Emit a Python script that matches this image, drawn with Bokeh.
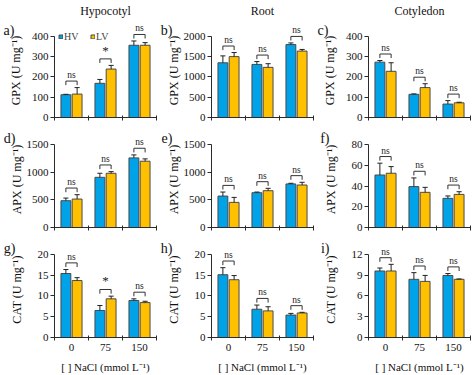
import numpy as np
from bokeh.plotting import figure
from bokeh.layouts import gridplot
from bokeh.models import (Range1d, FixedTicker, Legend, LegendItem, ColumnDataSource,
                          LinearAxis)
from bokeh.core.properties import value
from bokeh.embed import file_html
from bokeh.resources import INLINE

# ---------------- data ----------------
doses = ["0", "75", "150"]
tissues = ["Hypocotyl", "Root", "Cotyledon"]
enzymes = ["GPX", "APX", "CAT"]
letters = ["a)", "b)", "c)", "d)", "e)", "f)", "g)", "h)", "i)"]

gpx_hyp_hv = [112, 168, 355]; gpx_hyp_hv_err = [2, 19, 21]
gpx_hyp_lv = [115, 238, 355]; gpx_hyp_lv_err = [32, 18, 13]
gpx_root_hv = [1344, 1304, 1792]; gpx_root_hv_err = [170, 70, 40]
gpx_root_lv = [1496, 1232, 1632]; gpx_root_lv_err = [100, 90, 40]
gpx_cot_hv = [272, 114, 66]; gpx_cot_hv_err = [8, 2, 17]
gpx_cot_lv = [227, 147, 72]; gpx_cot_lv_err = [42, 19, 3]

apx_hyp_hv = [484, 907, 1258]; apx_hyp_hv_err = [48, 73, 54]
apx_hyp_lv = [514, 980, 1198]; apx_hyp_lv_err = [79, 30, 42]
apx_root_hv = [568, 629, 787]; apx_root_hv_err = [73, 12, 12]
apx_root_lv = [454, 665, 768]; apx_root_lv_err = [90, 43, 49]
apx_cot_hv = [50.6, 39.4, 28.1]; apx_cot_hv_err = [11.4, 8.4, 2.3]
apx_cot_lv = [52.3, 33.9, 31.9]; apx_cot_lv_err = [6.4, 4.8, 2.6]

cat_hyp_hv = [15.4, 6.5, 8.9]; cat_hyp_hv_err = [0.95, 1.2, 0.4]
cat_hyp_lv = [13.7, 9.3, 8.4]; cat_hyp_lv_err = [0.7, 0.65, 0.32]
cat_root_hv = [15.1, 6.8, 5.4]; cat_root_hv_err = [1.7, 1.0, 0.4]
cat_root_lv = [13.9, 6.4, 5.9]; cat_root_lv_err = [1.0, 1.0, 0.16]
cat_cot_hv = [9.6, 8.4, 8.95]; cat_cot_hv_err = [0.43, 0.96, 0.28]
cat_cot_lv = [9.6, 8.1, 8.4]; cat_cot_lv_err = [0.96, 0.86, 0.05]

sig_gpx_hyp = ["ns", "*", "ns"]
sig_cat_hyp = ["ns", "*", "ns"]
sig_ns = ["ns", "ns", "ns"]

y_max = [400, 2000, 400, 1500, 1500, 80, 20, 20, 12]
y_step = [100, 500, 100, 500, 500, 20, 5, 5, 3]

panels = [
    (gpx_hyp_hv, gpx_hyp_hv_err, gpx_hyp_lv, gpx_hyp_lv_err, sig_gpx_hyp),
    (gpx_root_hv, gpx_root_hv_err, gpx_root_lv, gpx_root_lv_err, sig_ns),
    (gpx_cot_hv, gpx_cot_hv_err, gpx_cot_lv, gpx_cot_lv_err, sig_ns),
    (apx_hyp_hv, apx_hyp_hv_err, apx_hyp_lv, apx_hyp_lv_err, sig_ns),
    (apx_root_hv, apx_root_hv_err, apx_root_lv, apx_root_lv_err, sig_ns),
    (apx_cot_hv, apx_cot_hv_err, apx_cot_lv, apx_cot_lv_err, sig_ns),
    (cat_hyp_hv, cat_hyp_hv_err, cat_hyp_lv, cat_hyp_lv_err, sig_cat_hyp),
    (cat_root_hv, cat_root_hv_err, cat_root_lv, cat_root_lv_err, sig_ns),
    (cat_cot_hv, cat_cot_hv_err, cat_cot_lv, cat_cot_lv_err, sig_ns),
]

# ---------------- style / layout ----------------
BLUE = "#00A2E8"
ORANGE = "#FFC000"
EDGE = "#4a4a4a"
AXIS = "#2b2b2b"
TXT = "#111111"
FONT = "Liberation Serif"

col_w = [157, 157, 160]
col_left = [48, 48, 48]
col_right = [1, 1, 4]
row_h = [121, 110, 144]
row_top = [20, 10, 10]
row_bottom = [4, 4, 37]
frame_h = [97, 96, 97]
span_px = [84, 83, 84]      # pixels from 0 to y_max
OFF = 0.165
BW = 0.29
CAP = 0.075

pos = np.arange(1, len(doses) + 1)

grid = []
for r in range(3):
    row_figs = []
    for c in range(3):
        k = r * 3 + c
        hv, hv_e, lv, lv_e, sig = panels[k]
        ym, st = y_max[k], y_step[k]
        kk = frame_h[r] / span_px[r]
        p = figure(width=col_w[c], height=row_h[r],
                   x_range=Range1d(0.5, 3.5), y_range=Range1d(0, ym * kk),
                   output_backend="svg", toolbar_location=None,
                   min_border_left=col_left[c], min_border_right=col_right[c],
                   min_border_top=row_top[r], min_border_bottom=row_bottom[r])
        p.outline_line_color = None
        p.xgrid.visible = False
        p.ygrid.visible = False

        xh = pos - OFF
        xl = pos + OFF
        hv = np.array(hv, float); lv = np.array(lv, float)
        hv_e = np.array(hv_e, float); lv_e = np.array(lv_e, float)

        r_hv = p.vbar(x=xh, top=hv, width=BW, fill_color=BLUE, line_color=EDGE, line_width=1)
        r_lv = p.vbar(x=xl, top=lv, width=BW, fill_color=ORANGE, line_color=EDGE, line_width=1)

        xs_all = np.concatenate([xh, xl])
        top_all = np.concatenate([hv, lv])
        err_all = np.concatenate([hv_e, lv_e])
        p.segment(x0=xs_all, y0=top_all, x1=xs_all, y1=top_all + err_all,
                  line_color="#222222", line_width=1)
        p.segment(x0=xs_all - CAP, y0=top_all + err_all, x1=xs_all + CAP, y1=top_all + err_all,
                  line_color="#222222", line_width=1)

        # significance brackets
        hi = np.maximum(hv + hv_e, lv + lv_e)
        yb = hi + 0.08 * ym
        leg = 0.05 * ym
        bx = [[a, a, b, b] for a, b in zip(xh, xl)]
        by = [[y - leg, y, y, y - leg] for y in yb]
        p.multi_line(xs=bx, ys=by, line_color="#333333", line_width=1)
        src = ColumnDataSource(dict(x=pos, y=yb + 0.012 * ym, t=sig,
                                    fs=["13px" if s == "*" else "9.5px" for s in sig]))
        p.text(x="x", y="y", text="t", source=src, text_align="center", text_baseline="bottom",
               text_font=value(FONT), text_font_size="fs", text_color="#222222")

        # main y axis
        nd = len(str(ym))
        yax = p.yaxis[0]
        yax.ticker = FixedTicker(ticks=list(np.arange(0, ym + st / 2, st)))
        yax.bounds = (0, ym)
        yax.axis_label = f"{enzymes[r]} (U mg\u207b\u00b9)"
        yax.axis_label_text_font = FONT
        yax.axis_label_text_font_style = "normal"
        yax.axis_label_text_font_size = "12px"
        yax.axis_label_standoff = int(round(22 - 5.5 * nd))
        yax.major_label_text_font = FONT
        yax.major_label_text_font_size = "11px"
        yax.major_label_standoff = 2
        yax.major_tick_in = 0
        yax.major_tick_out = 4
        yax.minor_tick_out = 0
        yax.axis_line_color = AXIS
        yax.major_tick_line_color = AXIS
        yax.major_label_text_color = TXT
        yax.axis_label_text_color = TXT

        # panel letter, carried by an extra bare axis on the left
        t_letter = float(ym * (1 + 6.0 / span_px[r]))
        lax = LinearAxis(ticker=FixedTicker(ticks=[t_letter]),
                         major_label_overrides={t_letter: letters[k]},
                         axis_line_color=None, major_tick_line_color=None,
                         minor_tick_line_color=None, major_tick_out=0, major_tick_in=0,
                         minor_tick_out=0, minor_tick_in=0,
                         major_label_standoff=-9,
                         major_label_text_font=FONT, major_label_text_font_size="14px",
                         major_label_text_color=TXT)
        p.add_layout(lax, "left")

        # x axis
        xax = p.xaxis[0]
        if r == 2:
            xax.ticker = FixedTicker(ticks=list(pos), minor_ticks=[0.5, 1.5, 2.5, 3.5])
            xax.major_label_overrides = {int(v): d for v, d in zip(pos, doses)}
            xax.axis_label = "[ ] NaCl (mmol L\u207b\u00b9)"
            xax.axis_label_text_font = FONT
            xax.axis_label_text_font_style = "normal"
            xax.axis_label_text_font_size = "11px"
            xax.axis_label_standoff = 7
            xax.major_label_text_font = FONT
            xax.major_label_text_font_size = "11px"
            xax.major_label_standoff = 3
            xax.axis_label_text_color = TXT
            xax.major_label_text_color = TXT
        else:
            xax.ticker = FixedTicker(ticks=[], minor_ticks=[0.5, 1.5, 2.5, 3.5])
        xax.major_tick_in = 0
        xax.major_tick_out = 0
        xax.minor_tick_in = 2
        xax.minor_tick_out = 3
        xax.axis_line_color = AXIS
        xax.minor_tick_line_color = AXIS

        # column title on a bare top axis
        if r == 0:
            tax = LinearAxis(ticker=FixedTicker(ticks=[]), axis_line_color=None,
                             major_tick_line_color=None, minor_tick_line_color=None,
                             major_tick_out=0, minor_tick_out=0,
                             axis_label=tissues[c], axis_label_standoff=6,
                             axis_label_text_font=FONT, axis_label_text_font_style="normal",
                             axis_label_text_font_size="12px", axis_label_text_color=TXT)
            p.add_layout(tax, "above")

        if k == 0:
            lg = Legend(items=[LegendItem(label="HV", renderers=[r_hv]),
                               LegendItem(label="LV", renderers=[r_lv])],
                        orientation="horizontal", location=(4, span_px[r] - 9),
                        glyph_width=5, glyph_height=5, label_standoff=1, spacing=6,
                        padding=0, margin=0, border_line_color=None,
                        background_fill_alpha=0, label_text_font=FONT,
                        label_text_font_size="10px", label_height=8)
            p.add_layout(lg)
        row_figs.append(p)
    grid.append(row_figs)

layout = gridplot(grid, toolbar_location=None)
open("out.html", "w").write(file_html(layout, INLINE))
